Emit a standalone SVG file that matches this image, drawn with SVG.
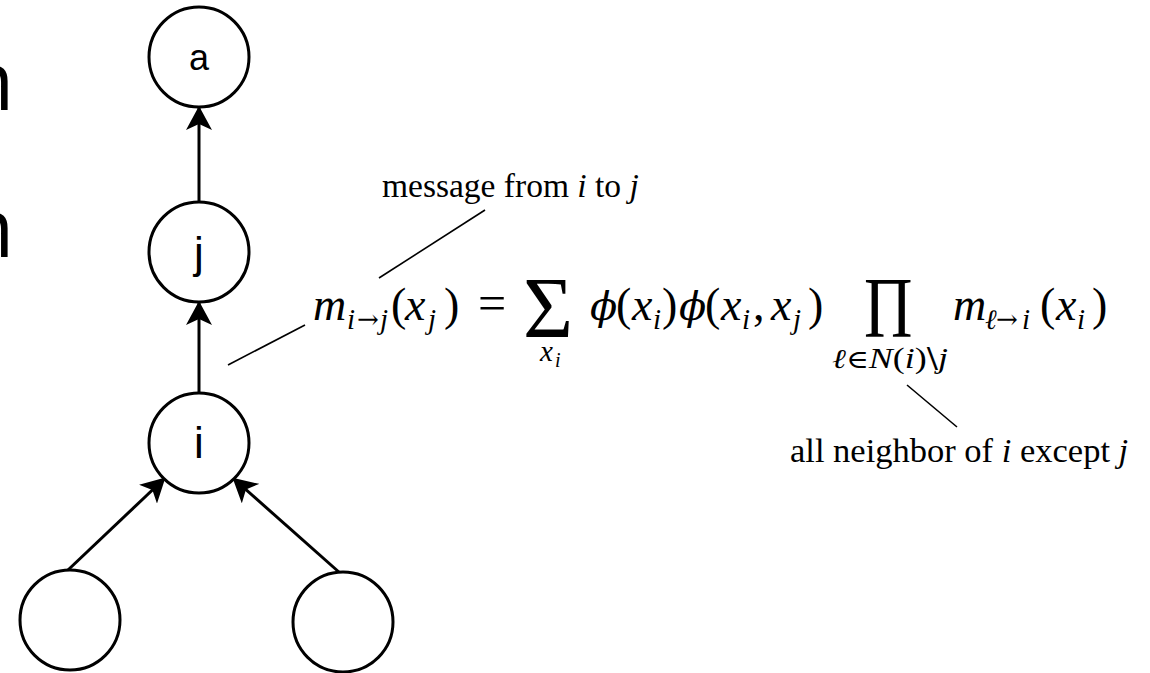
<svg xmlns="http://www.w3.org/2000/svg" width="1150" height="673" viewBox="0 0 1150 673">
<defs>
<style>
.node{fill:#fff;stroke:#000;stroke-width:3}
.edge{stroke:#000;stroke-width:3;fill:none}
.lead{stroke:#000;stroke-width:1.6;fill:none}
.lbl{font-family:"Liberation Sans",Arial,sans-serif;fill:#000;text-anchor:middle}
.ser{font-family:"Liberation Serif","DejaVu Serif",serif;fill:#000}
.it{font-style:italic}
.sym{font-family:"DejaVu Serif","Liberation Serif",serif;fill:#000}
.cut{font-family:"Open Sans","Liberation Sans",sans-serif;fill:#000}
</style>
<marker id="ah" viewBox="0 0 24 26" refX="22" refY="13" markerWidth="24" markerHeight="26" markerUnits="userSpaceOnUse" orient="auto">
<path d="M0,0 L24,13 L0,26 L6,13 Z" fill="#000"/>
</marker>
</defs>
<rect width="1150" height="673" fill="#fff"/>
<text class="cut" x="-36" y="110" font-size="82">n</text>
<text class="cut" x="-36" y="257" font-size="82">n</text>
<g id="connectors">
<line class="edge" x1="199" y1="202" x2="199" y2="108" marker-end="url(#ah)"/>
<line class="edge" x1="199" y1="393" x2="199" y2="303" marker-end="url(#ah)"/>
<line class="edge" x1="68" y1="570" x2="164" y2="479" marker-end="url(#ah)"/>
<line class="edge" x1="340" y1="573" x2="234" y2="479" marker-end="url(#ah)"/>
<line class="lead" x1="485" y1="210" x2="379" y2="278"/>
<line class="lead" x1="305" y1="325" x2="228" y2="365"/>
<line class="lead" x1="907" y1="385" x2="957" y2="427"/>
</g>
<g id="node-a"><circle class="node" cx="199" cy="57" r="50"/><text class="lbl" x="199" y="70" font-size="36">a</text></g>
<g id="node-j"><circle class="node" cx="199" cy="252" r="50"/><text class="lbl" x="199" y="268" font-size="44">j</text></g>
<g id="node-i"><circle class="node" cx="199" cy="443" r="50"/><text class="lbl" x="199" y="458" font-size="44">i</text></g>
<g id="node-left"><circle class="node" cx="70" cy="620" r="50"/></g>
<g id="node-right"><circle class="node" cx="343" cy="622" r="50"/></g>
<g id="label-message"><text class="ser" x="382" y="197" font-size="33.5">message from <tspan class="it">i</tspan> to <tspan class="it">j</tspan></text></g>
<g id="label-neighbor"><text class="ser" x="790" y="462" font-size="34.5">all neighbor of <tspan class="it">i</tspan> except <tspan class="it">j</tspan></text></g>
<g id="equation">
<text class="ser it" font-size="46">
<tspan x="313" y="320">m</tspan>
<tspan x="347" y="329" font-size="29">i</tspan>
<tspan x="380" y="329" font-size="29">j</tspan>
<tspan x="405" y="320">x</tspan>
<tspan x="428" y="329" font-size="29">j</tspan>
<tspan x="632" y="320">x</tspan>
<tspan x="653" y="329" font-size="29">i</tspan>
<tspan x="721" y="320">x</tspan>
<tspan x="742" y="329" font-size="29">i</tspan>
<tspan x="771" y="320">x</tspan>
<tspan x="793" y="329" font-size="29">j</tspan>
<tspan x="953" y="320">m</tspan>
<tspan x="1022" y="329" font-size="29">i</tspan>
<tspan x="1056" y="320">x</tspan>
<tspan x="1077" y="329" font-size="29">i</tspan>
<tspan x="540" y="361" font-size="29">x</tspan>
<tspan x="555" y="367" font-size="20">i</tspan>
</text>
<text class="ser" font-size="46">
<tspan x="391" y="320">(</tspan>
<tspan x="444" y="320">)</tspan>
<tspan x="616" y="320">(</tspan>
<tspan x="662" y="320">)</tspan>
<tspan x="705" y="320">(</tspan>
<tspan x="753" y="320">,</tspan>
<tspan x="808" y="320">)</tspan>
<tspan x="1040" y="320">(</tspan>
<tspan x="1092" y="320">)</tspan>
</text>
<text class="ser" x="478" y="320" font-size="50">=</text>
<text class="sym" font-size="26">
<tspan x="357" y="328">→</tspan>
<tspan x="996" y="328">→</tspan>
</text>
<text class="sym it" font-size="28" x="985" y="329">ℓ</text>
<text class="ser" x="832" y="368" font-size="29" textLength="116" lengthAdjust="spacingAndGlyphs"><tspan class="sym it" font-size="27">ℓ</tspan><tspan class="sym" font-size="25">∈</tspan><tspan class="it">N</tspan>(<tspan class="it">i</tspan>)<tspan class="sym" font-size="27">\</tspan><tspan class="it">j</tspan></text>
<text class="sym it" font-size="40"><tspan x="590" y="320">ϕ</tspan><tspan x="679" y="320">ϕ</tspan></text>
<text class="ser" x="523" y="337" font-size="86">Σ</text>
<text class="ser" x="0" y="0" font-size="86" transform="translate(864,337) scale(0.78,1)">Π</text>
</g>
</svg>
